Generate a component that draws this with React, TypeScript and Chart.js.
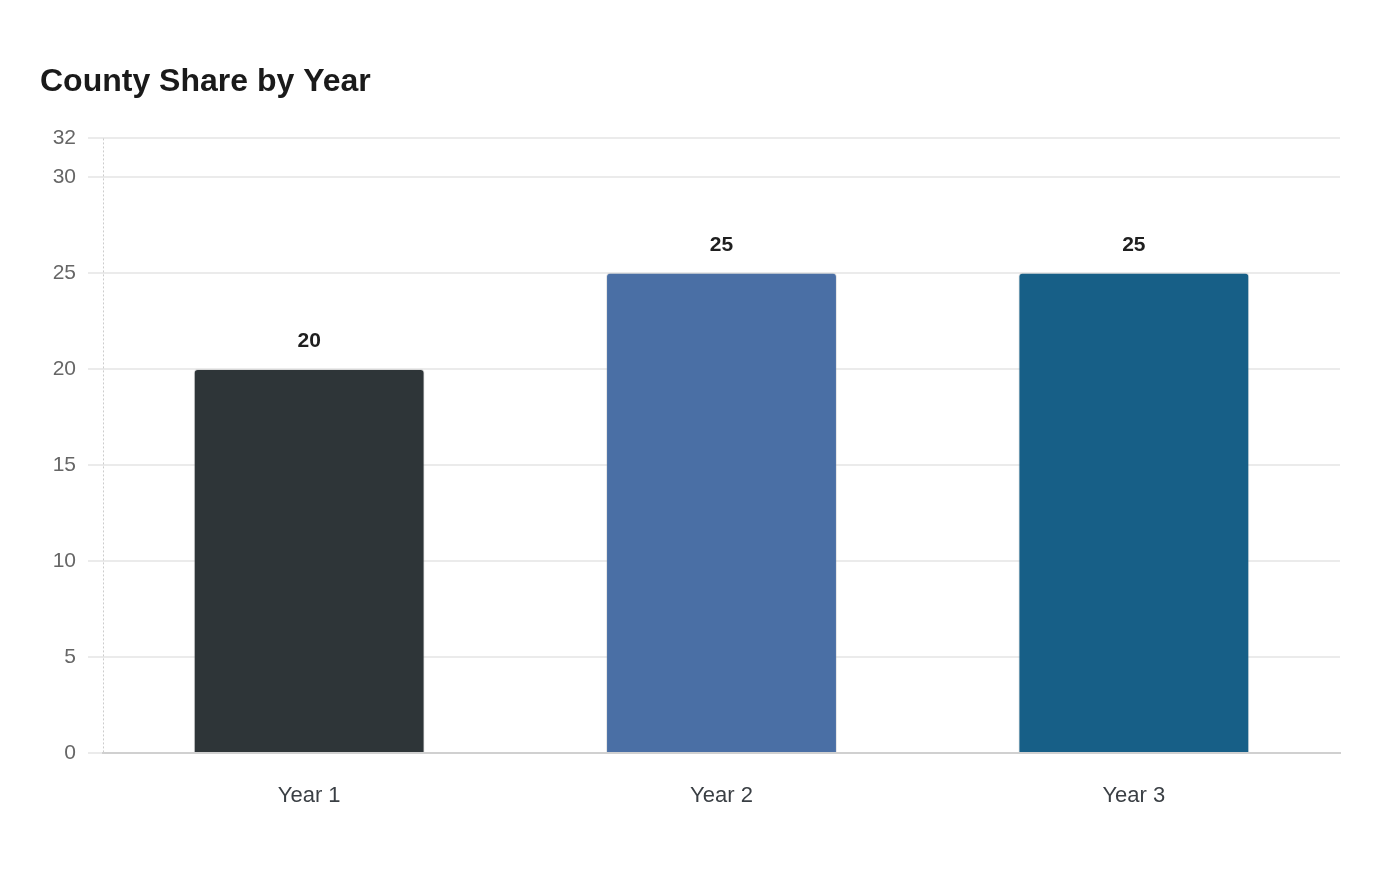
import { useEffect, useRef } from "react"
import { Chart, registerables, Plugin } from "chart.js"

Chart.register(...registerables)

const years = ["Year 1", "Year 2", "Year 3"]
const shares = [20, 25, 25]
const barColors = ["#2e3538", "#4a6fa5", "#175f87"]
const yTicks = [0, 5, 10, 15, 20, 25, 30, 32]

const FONT = "'Liberation Sans', Arial, Helvetica, sans-serif"

// draws the value above each bar
const valueLabels: Plugin<"bar"> = {
  id: "valueLabels",
  afterDatasetsDraw(chart) {
    const ctx = chart.ctx
    const meta = chart.getDatasetMeta(0)
    ctx.save()
    ctx.font = `bold 21px ${FONT}`
    ctx.fillStyle = "#1f1f1f"
    ctx.textAlign = "center"
    ctx.textBaseline = "middle"
    meta.data.forEach((bar, i) => {
      ctx.fillText(String(shares[i]), bar.x, bar.y - 28)
    })
    ctx.restore()
  },
}

// dotted y axis line (border.dash would dash the grid lines too)
const dottedAxis: Plugin<"bar"> = {
  id: "dottedAxis",
  beforeDatasetsDraw(chart) {
    const { ctx, chartArea } = chart
    ctx.save()
    ctx.strokeStyle = "#cccccc"
    ctx.lineWidth = 1
    ctx.setLineDash([2, 2])
    ctx.beginPath()
    ctx.moveTo(chartArea.left + 0.5, chartArea.top)
    ctx.lineTo(chartArea.left + 0.5, chartArea.bottom)
    ctx.stroke()
    ctx.restore()
  },
}

function ShareChart() {
  const canvasRef = useRef<HTMLCanvasElement>(null)
  const chartInstance = useRef<Chart | null>(null)

  useEffect(() => {
    if (!canvasRef.current) return
    if (chartInstance.current) chartInstance.current.destroy()

    chartInstance.current = new Chart(canvasRef.current, {
      type: "bar",
      data: {
        labels: years,
        datasets: [
          {
            label: "County Share",
            data: shares,
            backgroundColor: barColors,
            borderColor: "rgba(170,170,170,0.3)",
            borderWidth: 1,
            borderRadius: { topLeft: 4, topRight: 4, bottomLeft: 0, bottomRight: 0 },
            borderSkipped: "bottom",
            categoryPercentage: 0.8,
            barPercentage: 0.7,
          },
        ],
      },
      options: {
        responsive: false,
        animation: false,
        devicePixelRatio: 1,
        layout: { padding: { top: 0, left: 40, right: 60, bottom: 0 } },
        plugins: {
          legend: { display: false },
          tooltip: { enabled: false },
          title: {
            display: true,
            text: "County Share by Year",
            align: "start",
            color: "#1a1a1a",
            font: { family: FONT, size: 32, weight: "bold" },
            padding: { top: 63, bottom: 37 },
          },
        },
        scales: {
          x: {
            grid: { display: false, drawTicks: false },
            border: { color: "#d0d0d0", width: 2 },
            ticks: {
              color: "#3a3f44",
              font: { family: FONT, size: 22 },
              padding: 30,
            },
            afterFit: (scale) => {
              scale.height = 127
            },
          },
          y: {
            min: 0,
            max: 32,
            afterBuildTicks: (scale) => {
              scale.ticks = yTicks.map((v) => ({ value: v }))
            },
            grid: { color: "#ebebeb", lineWidth: 2, tickLength: 15 },
            border: { display: false },
            ticks: {
              color: "#666666",
              font: { family: FONT, size: 21 },
              padding: 12,
            },
            afterFit: (scale) => {
              scale.width = 63
            },
          },
        },
      },
      plugins: [dottedAxis, valueLabels],
    })

    return () => {
      if (chartInstance.current) {
        chartInstance.current.destroy()
        chartInstance.current = null
      }
    }
  }, [])

  return <canvas ref={canvasRef} width={1400} height={880} style={{ display: "block" }} />
}

export default function App() {
  return (
    <div style={{ position: "fixed", left: 0, top: 0, width: 1400, height: 880, background: "#ffffff" }}>
      <ShareChart />
    </div>
  )
}
